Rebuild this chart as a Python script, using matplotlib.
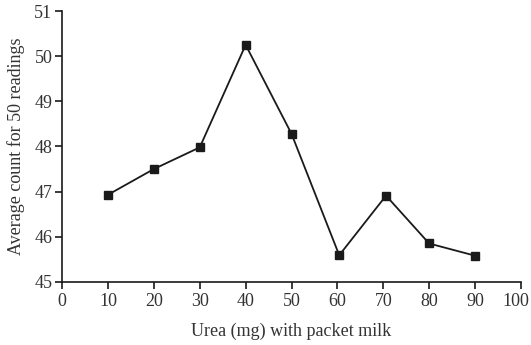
import matplotlib
matplotlib.use('Agg')
import matplotlib.pyplot as plt
import matplotlib.transforms as mtransforms

plt.rcParams['font.family'] = ['Liberation Serif', 'DejaVu Serif']

# values
urea_mg = [10, 20, 30, 40, 50, 60.4, 70.6, 80, 90]
avg_count = [46.93, 47.50, 47.98, 50.25, 48.28, 45.59, 46.91, 45.85, 45.58]
x_ticks = list(range(0, 101, 10))
y_ticks = list(range(45, 52))

fig = plt.figure(figsize=(5.31, 3.45), dpi=100)
ax = fig.add_axes([0.117, 0.183, 0.864, 0.785])

ax.plot(urea_mg, avg_count, color='#1a1a1a', lw=1.3,
        marker='s', markersize=5.5, markerfacecolor='#1a1a1a',
        markeredgecolor='#1a1a1a')

ax.set_xlim(0, 100)
ax.set_ylim(45, 51)
ax.set_xticks(x_ticks)
ax.set_yticks(y_ticks)

for side in ['top', 'right']:
    ax.spines[side].set_visible(False)
for side in ['left', 'bottom']:
    ax.spines[side].set_linewidth(1.2)
    ax.spines[side].set_color('#1a1a1a')

ax.tick_params(direction='out', length=5, width=1.2, colors='#1a1a1a',
               labelsize=13, pad=2)
ax.tick_params(axis='x', pad=3)
for lab in ax.get_xticklabels() + ax.get_yticklabels():
    lab.set_color('#333333')

# last x label sits slightly left so it stays inside the figure
last = ax.get_xticklabels()[-1]
last.set_transform(last.get_transform() +
                   mtransforms.ScaledTranslation(-0.05, 0, fig.dpi_scale_trans))

ax.set_xlabel('Urea (mg) with packet milk', fontsize=13, color='#333333')
ax.set_ylabel('Average count for 50 readings', fontsize=13, color='#333333')
ax.xaxis.set_label_coords(0.5, -0.15)
ax.yaxis.set_label_coords(-0.08, 0.5)

fig.savefig('out.png', dpi=100)
